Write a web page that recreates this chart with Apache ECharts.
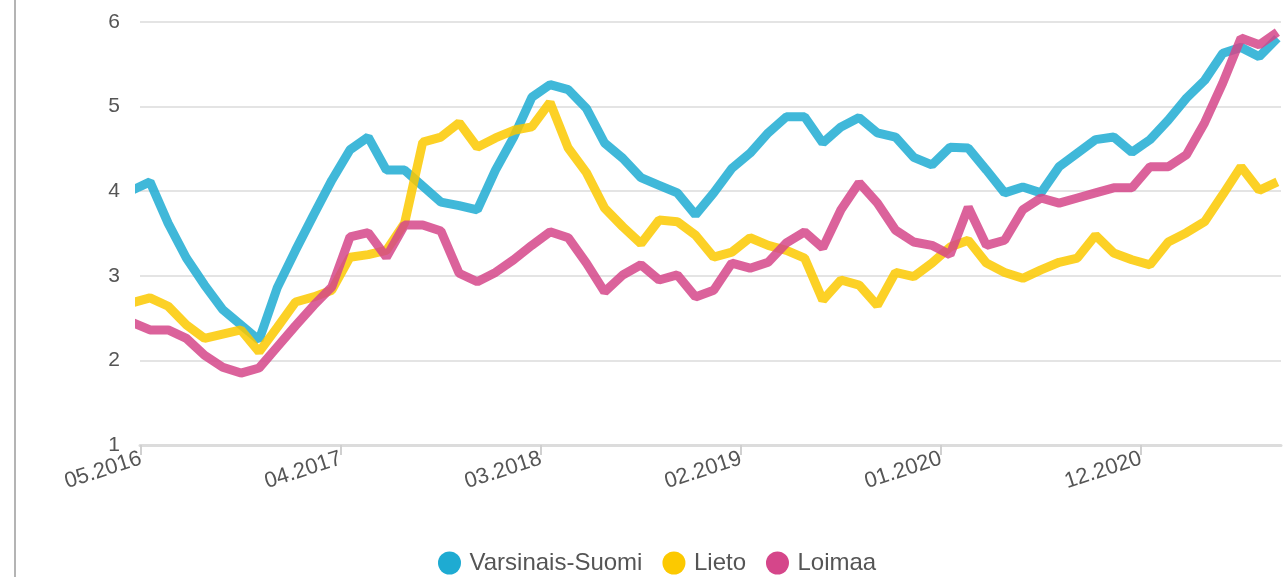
<!DOCTYPE html>
<html>
<head>
<meta charset="utf-8">
<title>Työttömyysaste</title>
<script src="https://cdn.jsdelivr.net/npm/echarts@6/dist/echarts.min.js"></script>
<style>
  html, body { margin: 0; padding: 0; background: #fff; }
  #chart { position: absolute; left: 0; top: 0; width: 1286px; height: 577px; }
  #border { position: absolute; left: 14px; top: 0; width: 2px; height: 577px; background: #b4b4b4; }
</style>
</head>
<body>
<div id="border"></div>
<div id="chart"></div>
<script>
  // monthly values, 05.2016 .. 08.2021
  var varsinaisSuomi = [
    4.01, 4.11, 3.62, 3.21, 2.89, 2.60, 2.42, 2.24, 2.86, 3.30,
    3.72, 4.13, 4.49, 4.64, 4.25, 4.25, 4.06, 3.87, 3.83, 3.78,
    4.25, 4.64, 5.11, 5.26, 5.20, 4.98, 4.57, 4.39, 4.16, 4.07,
    3.98, 3.72, 3.98, 4.27, 4.45, 4.69, 4.88, 4.88, 4.57, 4.76,
    4.87, 4.69, 4.64, 4.40, 4.31, 4.52, 4.51, 4.25, 3.98, 4.05,
    3.98, 4.29, 4.45, 4.61, 4.64, 4.46, 4.61, 4.84, 5.10, 5.31,
    5.63, 5.70, 5.59, 5.81
  ];
  var lieto = [
    2.68, 2.74, 2.64, 2.42, 2.26, 2.31, 2.36, 2.10, 2.39, 2.69,
    2.75, 2.83, 3.22, 3.25, 3.30, 3.62, 4.58, 4.64, 4.81, 4.52,
    4.63, 4.72, 4.76, 5.05, 4.51, 4.22, 3.80, 3.58, 3.38, 3.66,
    3.64, 3.48, 3.22, 3.28, 3.45, 3.36, 3.30, 3.21, 2.71, 2.95,
    2.89, 2.65, 3.04, 2.99, 3.15, 3.34, 3.42, 3.15, 3.04, 2.97,
    3.07, 3.16, 3.21, 3.48, 3.27, 3.19, 3.13, 3.40, 3.51, 3.64,
    3.96, 4.29, 4.01, 4.11
  ];
  var loimaa = [
    2.45, 2.36, 2.36, 2.26, 2.06, 1.92, 1.85, 1.91, 2.16, 2.41,
    2.65, 2.87, 3.46, 3.51, 3.22, 3.60, 3.60, 3.53, 3.03, 2.93,
    3.04, 3.19, 3.36, 3.52, 3.45, 3.15, 2.81, 3.01, 3.13, 2.95,
    3.01, 2.75, 2.83, 3.15, 3.09, 3.16, 3.39, 3.52, 3.33, 3.78,
    4.10, 3.86, 3.54, 3.40, 3.36, 3.25, 3.81, 3.36, 3.42, 3.78,
    3.92, 3.86, 3.92, 3.98, 4.04, 4.04, 4.29, 4.29, 4.43, 4.81,
    5.28, 5.81, 5.73, 5.88
  ];
  var tickLabels = ['05.2016', '04.2017', '03.2018', '02.2019', '01.2020', '12.2020'];

  function toPairs(arr) {
    return arr.map(function (v, i) { return [i, v]; });
  }

  var tickValues = tickLabels.map(function (t, k) { return k * 11 + 0.5; });

  var chart = echarts.init(document.getElementById('chart'));
  chart.setOption({
    animation: false,
    textStyle: { fontFamily: 'Liberation Sans, Arial, sans-serif' },
    grid: { left: 140, right: 5, top: 22, bottom: 132, containLabel: false },
    legend: {
      left: 433,
      top: 546,
      icon: 'circle',
      itemWidth: 30,
      itemHeight: 23,
      itemGap: 20,
      textStyle: { fontSize: 24, color: '#555' },
      data: ['Varsinais-Suomi', 'Lieto', 'Loimaa']
    },
    xAxis: {
      type: 'value',
      min: 0.45,
      max: 63.2,
      splitLine: { show: false },
      axisLine: { show: true, lineStyle: { color: '#dcdcdc', width: 3 } },
      axisTick: {
        show: true,
        customValues: tickValues,
        length: 10,
        lineStyle: { color: '#d0d0d0', width: 2 }
      },
      axisLabel: {
        customValues: tickValues,
        rotate: 18,
        fontSize: 22,
        color: '#555',
        margin: 13,
        formatter: function (v) {
          var k = Math.round((v - 0.5) / 11);
          return tickLabels[k] || '';
        }
      }
    },
    yAxis: {
      type: 'value',
      min: 1,
      max: 6,
      interval: 1,
      axisLine: { show: false },
      axisTick: { show: false },
      axisLabel: { fontSize: 21, color: '#555', margin: 20 },
      splitLine: { lineStyle: { color: '#e4e4e4', width: 2 } }
    },
    series: [
      {
        name: 'Varsinais-Suomi',
        type: 'line',
        data: toPairs(varsinaisSuomi),
        showSymbol: false,
        clip: false,
        color: '#1eabd2',
        lineStyle: { width: 9, opacity: 0.85 }
      },
      {
        name: 'Lieto',
        type: 'line',
        data: toPairs(lieto),
        showSymbol: false,
        clip: false,
        color: '#fcc900',
        lineStyle: { width: 9, opacity: 0.85 }
      },
      {
        name: 'Loimaa',
        type: 'line',
        data: toPairs(loimaa),
        showSymbol: false,
        clip: false,
        color: '#d5468a',
        lineStyle: { width: 9, opacity: 0.85 }
      }
    ]
  });
</script>
</body>
</html>
